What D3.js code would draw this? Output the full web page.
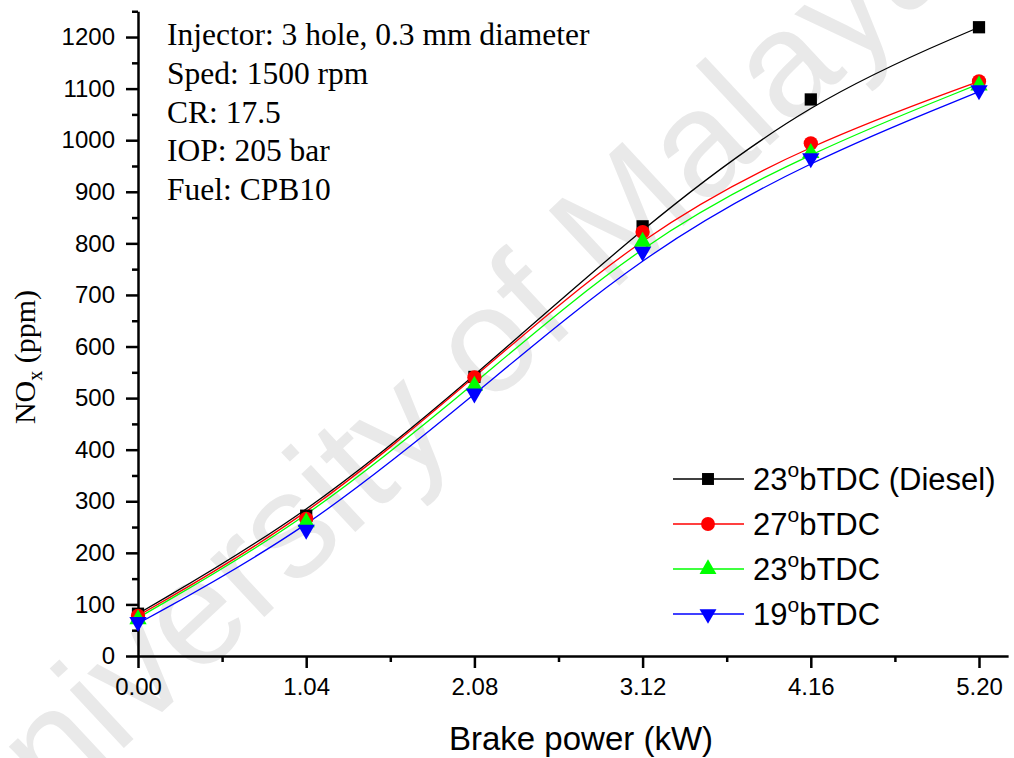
<!DOCTYPE html>
<html>
<head>
<meta charset="utf-8">
<script src="https://cdn.jsdelivr.net/npm/d3@7"></script>
<style>
  html, body { margin: 0; padding: 0; background: #fff; }
  svg { display: block; }
</style>
</head>
<body>
<svg id="chart" width="1014" height="758"></svg>
<script>
// ---- data ----
const brakePower = [0.00, 1.04, 2.08, 3.12, 4.16, 5.20];
const xTickValues = [0.00, 1.04, 2.08, 3.12, 4.16, 5.20];
const xTickLabels = ["0.00", "1.04", "2.08", "3.12", "4.16", "5.20"];
const yTickValues = [0, 100, 200, 300, 400, 500, 600, 700, 800, 900, 1000, 1100, 1200];
const seriesNames = ["23", "27", "23", "19"];
const seriesSuffix = ["bTDC (Diesel)", "bTDC", "bTDC", "bTDC"];
const noxDiesel23 = [82, 272, 541, 833, 1079, 1219];
const noxCPB27 = [78, 266, 540, 822, 994, 1114];
const noxCPB23 = [74, 262, 527, 806, 978, 1109];
const noxCPB19 = [63, 242, 506, 781, 962, 1094];
const annotationLines = ["Injector: 3 hole, 0.3 mm diameter", "Sped: 1500 rpm", "CR: 17.5", "IOP: 205 bar", "Fuel: CPB10"];

const seriesValues = [noxDiesel23, noxCPB27, noxCPB23, noxCPB19];
const colors = ["#000000", "#ff0000", "#00ff00", "#0000ff"];
const symbols = [d3.symbolSquare, d3.symbolCircle, d3.symbolTriangle, d3.symbolTriangle];
const symbolSizes = [150, 160, 130, 130];
const symbolRot = [0, 0, 0, 180];

const svg = d3.select("#chart");

// watermark
svg.append("text")
  .attr("transform", "translate(470,425) rotate(-43)")
  .attr("text-anchor", "middle")
  .attr("font-family", "Liberation Sans, Arial, sans-serif")
  .attr("font-size", 150)
  .attr("fill", "#e9e9e9")
  .text("University of Malaya");

const x = d3.scaleLinear().domain([0, 5.38]).range([138, 138 + 5.38 / 5.2 * 841]);
const y = d3.scaleLinear().domain([0, 1250]).range([656, 656 - 1250 * 0.5158]);

const tickFont = "Liberation Sans, Arial, sans-serif";

// minor ticks
const xMinor = d3.range(0, 5.38, 0.52).filter(v => !xTickValues.some(t => Math.abs(t - v) < 1e-6));
const yMinor = d3.range(50, 1251, 100);

const gx = svg.append("g").attr("transform", `translate(0,${y(0)})`);
gx.call(d3.axisBottom(x).tickValues(xTickValues).tickFormat((d, i) => xTickLabels[i]).tickSize(12).tickPadding(10).tickSizeOuter(0));
gx.append("g").call(d3.axisBottom(x).tickValues(xMinor).tickSize(6).tickFormat("").tickSizeOuter(0))
  .select(".domain").remove();

const gy = svg.append("g").attr("transform", `translate(${x(0)},0)`);
gy.call(d3.axisLeft(y).tickValues(yTickValues).tickFormat(d3.format("d")).tickSize(12).tickPadding(11).tickSizeOuter(0));
gy.append("g").call(d3.axisLeft(y).tickValues(yMinor).tickSize(6).tickFormat("").tickSizeOuter(0))
  .select(".domain").remove();

svg.selectAll(".domain").attr("stroke", "#000").attr("stroke-width", 2.5);
svg.selectAll(".tick line").attr("stroke", "#000").attr("stroke-width", 2.5);
svg.selectAll(".tick text").attr("font-family", tickFont).attr("font-size", 24).attr("fill", "#000");

// lines & markers
const line = d3.line().x((d, i) => x(brakePower[i])).y(d => y(d)).curve(d3.curveBasis);

seriesValues.forEach((vals, s) => {
  svg.append("path")
    .attr("d", line(vals))
    .attr("fill", "none")
    .attr("stroke", colors[s])
    .attr("stroke-width", 1.3);
});
seriesValues.forEach((vals, s) => {
  svg.append("g").selectAll("path")
    .data(vals)
    .join("path")
    .attr("d", d3.symbol().type(symbols[s]).size(symbolSizes[s]))
    .attr("transform", (d, i) => `translate(${x(brakePower[i])},${y(d) + (s === 2 ? 1.5 : s === 3 ? -1.5 : 0)}) rotate(${symbolRot[s]})`)
    .attr("fill", colors[s]);
});

// legend
const legY = [479, 524, 569, 614];
seriesNames.forEach((nm, s) => {
  const g = svg.append("g").attr("transform", `translate(0,${legY[s]})`);
  g.append("line").attr("x1", 673).attr("x2", 744).attr("y1", 0).attr("y2", 0)
    .attr("stroke", colors[s]).attr("stroke-width", 1.3);
  g.append("path")
    .attr("d", d3.symbol().type(symbols[s]).size(symbolSizes[s] * 0.95))
    .attr("transform", `translate(708,0) rotate(${symbolRot[s]})`)
    .attr("fill", colors[s]);
  const t = g.append("text")
    .attr("x", 753).attr("y", 11)
    .attr("font-family", tickFont).attr("font-size", 31).attr("fill", "#000");
  t.append("tspan").text(nm);
  t.append("tspan").attr("font-size", 21).attr("dy", -13).text("o");
  t.append("tspan").attr("dy", 13).text(seriesSuffix[s]);
});

// annotation
const ann = svg.append("g");
annotationLines.forEach((txt, i) => {
  ann.append("text")
    .attr("x", 167).attr("y", 45 + i * 38.8)
    .attr("font-family", "Liberation Serif, Times New Roman, serif")
    .attr("font-size", 31.5)
    .attr("fill", "#000")
    .text(txt);
});

// axis titles
svg.append("text")
  .attr("x", 581).attr("y", 750)
  .attr("text-anchor", "middle")
  .attr("font-family", tickFont).attr("font-size", 33).attr("fill", "#000")
  .text("Brake power (kW)");

const yl = svg.append("text")
  .attr("transform", `translate(35,357) rotate(-90)`)
  .attr("text-anchor", "middle")
  .attr("font-family", "Liberation Serif, Times New Roman, serif")
  .attr("font-size", 30).attr("fill", "#000");
yl.append("tspan").text("NO");
yl.append("tspan").attr("font-size", 20).attr("dy", 7).text("x");
yl.append("tspan").attr("dy", -7).text(" (ppm)");
</script>
</body>
</html>
